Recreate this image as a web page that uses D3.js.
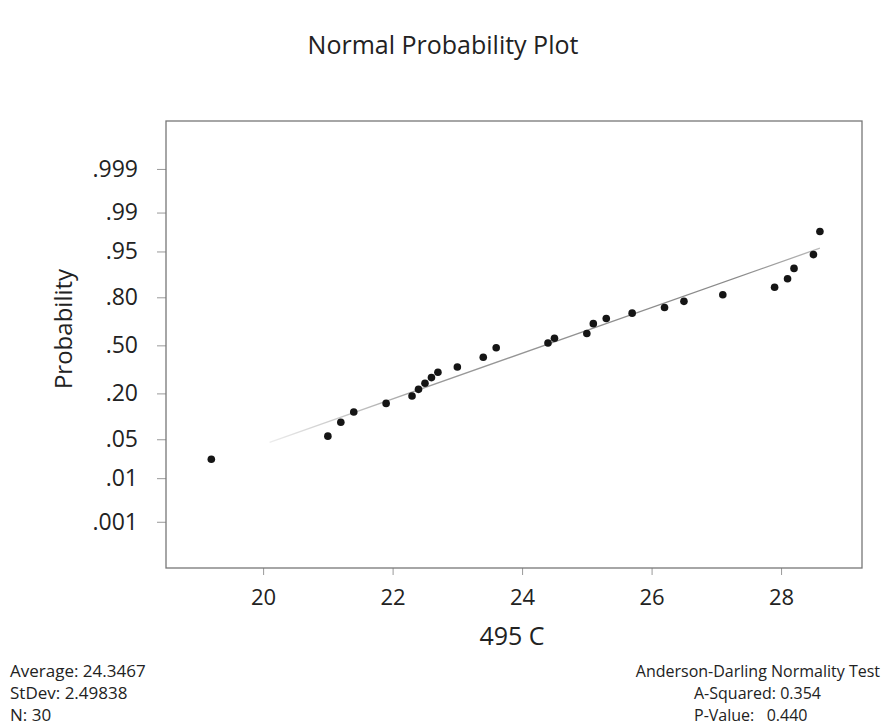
<html>
<head>
<meta charset="utf-8">
<script src="https://cdn.jsdelivr.net/npm/d3@7"></script>
<style>
  body { margin: 0; background: #fff; }
  text { font-family: "Open Sans", "DejaVu Sans", sans-serif; fill: #222; }
</style>
</head>
<body>
<svg width="884" height="726"></svg>
<script>
// sample values (distinct, sorted) and their plotted probabilities
const values = [19.2, 21.0, 21.2, 21.4, 21.9, 22.3, 22.4, 22.5, 22.6, 22.7, 23.0, 23.4, 23.6,
                24.4, 24.5, 25.0, 25.1, 25.3, 25.7, 26.2, 26.5, 27.1, 27.9, 28.1, 28.2, 28.5, 28.6];
const probs  = [.0230, .0559, .0888, .1217, .1546, .1875, .2204, .2533, .2862, .3191, .3520, .4178, .4836,
                .5164, .5493, .5822, .6480, .6809, .7138, .7467, .7796, .8125, .8454, .8783, .9112, .9441, .9770];

const probTicks  = [.001, .01, .05, .20, .50, .80, .95, .99, .999];
const probLabels = ['.001', '.01', '.05', '.20', '.50', '.80', '.95', '.99', '.999'];
const xTicks = [20, 22, 24, 26, 28];

const mean = 24.3467, sd = 2.49838, n = 30;
const aSquared = 0.354, pValue = 0.440;
const fitRange = [20.1, 28.6];

// inverse normal cdf (Acklam)
function qnorm(p) {
  const a = [-39.6968302866538, 220.946098424521, -275.928510446969, 138.357751867269, -30.6647980661472, 2.50662827745924];
  const b = [-54.4760987982241, 161.585836858041, -155.698979859887, 66.8013118877197, -13.2806815528857];
  const c = [-0.00778489400243029, -0.322396458041136, -2.40075827716184, -2.54973253934373, 4.37466414146497, 2.93816398269878];
  const d = [0.00778469570904146, 0.32246712907004, 2.445134137143, 3.75440866190742];
  const pl = 0.02425;
  let q, r;
  if (p < pl) {
    q = Math.sqrt(-2 * Math.log(p));
    return (((((c[0]*q+c[1])*q+c[2])*q+c[3])*q+c[4])*q+c[5]) / ((((d[0]*q+d[1])*q+d[2])*q+d[3])*q+1);
  } else if (p <= 1 - pl) {
    q = p - 0.5; r = q*q;
    return (((((a[0]*r+a[1])*r+a[2])*r+a[3])*r+a[4])*r+a[5])*q / (((((b[0]*r+b[1])*r+b[2])*r+b[3])*r+b[4])*r+1);
  } else {
    q = Math.sqrt(-2 * Math.log(1 - p));
    return -(((((c[0]*q+c[1])*q+c[2])*q+c[3])*q+c[4])*q+c[5]) / ((((d[0]*q+d[1])*q+d[2])*q+d[3])*q+1);
  }
}

const svg = d3.select('svg');
const L = 166, R = 862, T = 121, B = 568;

const x = d3.scaleLinear().domain([18.5, 29.25]).range([L, R]);
const y = d3.scaleLinear().domain([-3.90, 3.93]).range([B, T]);

svg.append('text').attr('x', 443).attr('y', 54).attr('text-anchor', 'middle')
   .style('font-size', '25px').text('Normal Probability Plot');

// y axis
const yAxis = svg.append('g').attr('transform', `translate(${L},0)`)
   .call(d3.axisLeft(y).tickValues(probTicks.map(qnorm))
        .tickFormat((d, i) => probLabels[i]).tickSize(9).tickPadding(19));
yAxis.select('.domain').remove();
yAxis.selectAll('line').attr('stroke', '#999');
yAxis.selectAll('text').style('font-size', '23px').style('font-family', '"Open Sans", sans-serif').attr('fill', '#222');

// x axis
const xAxis = svg.append('g').attr('transform', `translate(0,${B})`)
   .call(d3.axisBottom(x).tickValues(xTicks).tickSize(7).tickPadding(14));
xAxis.select('.domain').remove();
xAxis.selectAll('line').attr('stroke', '#999');
xAxis.selectAll('text').style('font-size', '22px').style('font-family', '"Open Sans", sans-serif').attr('fill', '#222');

// box
svg.append('rect').attr('x', L).attr('y', T).attr('width', R - L).attr('height', B - T)
   .attr('fill', 'none').attr('stroke', '#777').attr('stroke-width', 1.3);

// fitted line
const grad = svg.append('defs').append('linearGradient').attr('id', 'fitg')
   .attr('gradientUnits', 'userSpaceOnUse')
   .attr('x1', x(fitRange[0])).attr('x2', x(fitRange[1])).attr('y1', 0).attr('y2', 0);
grad.append('stop').attr('offset', '0').attr('stop-color', '#ececec');
grad.append('stop').attr('offset', '0.3').attr('stop-color', '#9a9a9a');
grad.append('stop').attr('offset', '0.85').attr('stop-color', '#888');
grad.append('stop').attr('offset', '1').attr('stop-color', '#bbb');
svg.append('path').datum(fitRange)
   .attr('fill', 'none').attr('stroke', 'url(#fitg)').attr('stroke-width', 1.3)
   .attr('d', d3.line().x(d => x(d)).y(d => y((d - mean) / sd)));

// points
svg.append('g').selectAll('circle').data(values).join('circle')
   .attr('cx', d => x(d)).attr('cy', (d, i) => y(qnorm(probs[i])))
   .attr('r', 3.8).attr('fill', '#151515');

// axis titles
svg.append('text').attr('transform', 'translate(72,329) rotate(-90)').attr('text-anchor', 'middle')
   .style('font-size', '24px').text('Probability');
svg.append('text').attr('x', 512).attr('y', 645).attr('text-anchor', 'middle')
   .style('font-size', '25px').text('495 C');

// stats
const left = svg.append('g').style('font-size', '17px');
[`Average: ${mean}`, `StDev: ${sd}`, `N: ${n}`].forEach((s, i) =>
  left.append('text').attr('x', 10).attr('y', 677 + i * 22).text(s));
const right = svg.append('g').style('font-size', '16px');
right.append('text').attr('x', 880).attr('y', 677).attr('text-anchor', 'end').text('Anderson-Darling Normality Test');
right.append('text').attr('x', 694).attr('y', 699).text(`A-Squared: ${aSquared.toFixed(3)}`);
right.append('text').attr('x', 694).attr('y', 721).attr('xml:space', 'preserve').text(`P-Value:   ${pValue.toFixed(3)}`);
</script>
</body>
</html>
